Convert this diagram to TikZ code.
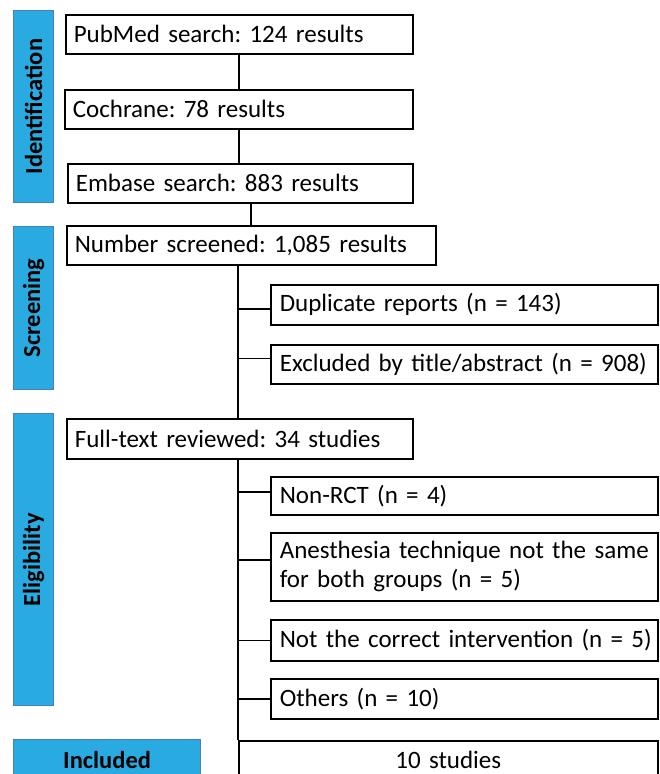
\documentclass[tikz,border=0pt]{standalone}
\usepackage{fontspec}
\setmainfont{Carlito}
\frenchspacing
\definecolor{barfill}{HTML}{29ABE2}
\definecolor{barline}{HTML}{4A7EC4}
\begin{document}
\begin{tikzpicture}[x=1pt,y=-1pt,
  box/.style={draw=black,line width=1.6pt,anchor=north west,inner xsep=8pt,inner ysep=0pt,
    align=left,font=\fontsize{25}{29}\selectfont},
  bar/.style={draw=barline,fill=barfill,line width=1.2pt,anchor=north west,inner sep=0pt,
    font=\fontsize{24.5}{28}\selectfont\bfseries},
  conn/.style={line width=1.4pt,black}]
\clip (0,0) rectangle (659,774);
% stage bars
\node[bar,minimum width=40pt,minimum height=192pt] (bid) at (13,10) {};
\node[rotate=90,font=\fontsize{24.5}{28}\selectfont\bfseries] (tid) at (bid.center) {Identification};
\node[bar,minimum width=40pt,minimum height=163pt] (bsc) at (13,226) {};
\node[rotate=90,font=\fontsize{24.5}{28}\selectfont\bfseries] (tsc) at (bsc.center) {Screening};
\node[bar,minimum width=40pt,minimum height=292pt] (bel) at (13,413) {};
\node[rotate=90,font=\fontsize{24.5}{28}\selectfont\bfseries] (tel) at (bel.center) {Eligibility};
\node[bar,minimum width=187pt,minimum height=40pt] (binc) at (13,739) {Included};
% main boxes
\node[box,minimum width=347pt,text width=331pt,minimum height=39pt] (pub) at (65,14) {PubMed search: 124 results};
\node[box,minimum width=348pt,text width=332pt,minimum height=39pt] (coch) at (64,89) {Cochrane: 78 results};
\node[box,minimum width=345pt,text width=329pt,minimum height=39pt] (emb) at (67,163) {Embase search: 883 results};
\node[box,minimum width=369pt,text width=353pt,minimum height=39pt] (scr) at (66,225) {Number screened: 1,085 results};
\node[box,minimum width=387pt,text width=369pt,minimum height=40pt,inner xsep=9pt] (dup) at (270,284) {Duplicate reports (n = 143)};
\node[box,minimum width=387pt,text width=369pt,minimum height=39pt,inner xsep=9pt] (exc) at (270,344) {Excluded by title/abstract (n = 908)};
\node[box,minimum width=346pt,text width=330pt,minimum height=40pt] (ful) at (66,418) {Full-text reviewed: 34 studies};
\node[box,minimum width=387pt,text width=369pt,minimum height=38pt,inner xsep=9pt] (nrc) at (270,476) {Non-RCT (n = 4)};
\node[box,minimum width=387pt,text width=369pt,minimum height=68pt,inner xsep=9pt] (ane) at (270,532) {Anesthesia technique not the same\\for both groups (n = 5)};
\node[box,minimum width=387pt,text width=369pt,minimum height=41pt,inner xsep=9pt] (ncr) at (270,619) {\mbox{Not the correct intervention (n = 5)}};
\node[box,minimum width=387pt,text width=369pt,minimum height=40pt,inner xsep=9pt] (oth) at (270,678) {Others (n = 10)};
\node[box,minimum width=419pt,text width=403pt,minimum height=39pt,align=center] (ten) at (238,740) {10 studies};
% spine coordinates
\coordinate (s1) at (239,0);
\coordinate (s2) at (251,0);
\coordinate (s3) at (238,0);
% connectors
\draw[conn] (pub.south -| s1) -- (coch.north -| s1);
\draw[conn] (coch.south -| s1) -- (emb.north -| s1);
\draw[conn] (emb.south -| s2) -- (scr.north -| s2);
\draw[conn] (scr.south -| s3) -- (ful.north -| s3);
\draw[conn] ([yshift=-4pt]dup.west -| s3) -- ([yshift=-4pt]dup.west);
\draw[conn] ([yshift=6pt]exc.west -| s3) -- ([yshift=6pt]exc.west);
\draw[conn] (ful.south -| s3) -- (ten.north west);
\draw[conn] ([yshift=4pt]nrc.west -| s3) -- ([yshift=4pt]nrc.west);
\draw[conn] ([yshift=7pt]ane.west -| s3) -- ([yshift=7pt]ane.west);
\draw[conn] (ncr.west -| s3) -- (ncr.west);
\draw[conn] (oth.west -| s3) -- (oth.west);
\end{tikzpicture}
\end{document}
